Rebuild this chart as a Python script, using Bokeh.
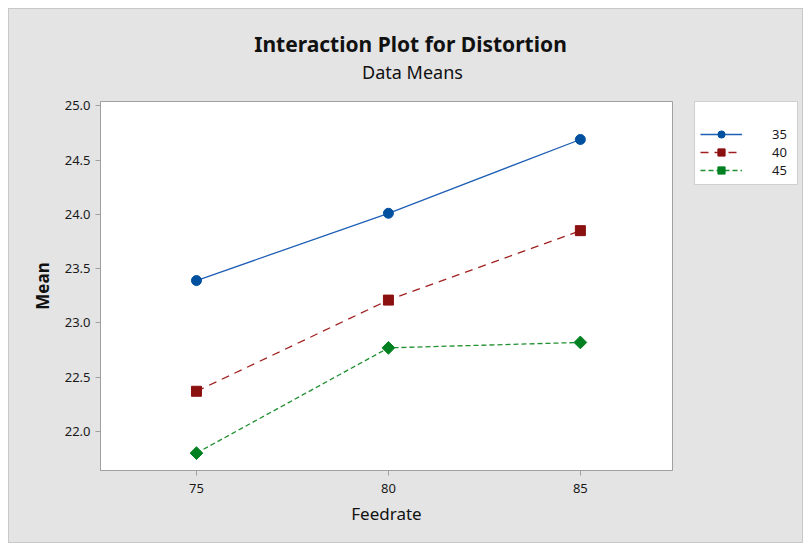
import math
from bokeh.plotting import figure
from bokeh.layouts import column, row
from bokeh.models import (Range1d, FixedTicker, Legend, LegendItem, Label, NumeralTickFormatter)
from bokeh.embed import file_html
from bokeh.resources import INLINE

feedrate = [75, 80, 85]
speeds = ["35", "40", "45"]
mean_35 = [23.39, 24.01, 24.69]
mean_40 = [22.37, 23.21, 23.85]
mean_45 = [21.80, 22.77, 22.82]
x_ticks = [75, 80, 85]
y_ticks = [22.0, 22.5, 23.0, 23.5, 24.0, 24.5, 25.0]

FONT = "Noto Sans"
BG = "#e4e4e4"
TXT = "#111111"

STY = {
    "35": dict(line_color="#1f5fb5", line_dash="solid", marker="circle", size=10,
               color="#0050a0", angle=0.0),
    "40": dict(line_color="#a02020", line_dash="8 6", marker="square", size=10,
               color="#8b1010", angle=0.0),
    "45": dict(line_color="#209030", line_dash="5 3", marker="square", size=9,
               color="#008020", angle=math.pi / 4),
}


def blank_fig(w, h, top=0, left=0):
    f = figure(width=w, height=h, output_backend="svg", toolbar_location=None,
               x_range=Range1d(0, 1), y_range=Range1d(0, 1),
               x_axis_type=None, y_axis_type=None,
               min_border_left=left, min_border_right=0, min_border_top=top,
               min_border_bottom=0)
    f.background_fill_color = BG
    f.border_fill_color = BG
    f.outline_line_color = None
    f.xgrid.visible = False
    f.ygrid.visible = False
    return f


# ---- title strip ----
tf = blank_fig(793, 84)
tf.add_layout(Label(x=401, y=50, x_units="screen", y_units="screen",
                    text="Interaction Plot for Distortion", text_align="center",
                    text_baseline="middle", text_font=FONT, text_font_size="21px",
                    text_font_style="bold", text_color=TXT))
tf.add_layout(Label(x=403, y=22, x_units="screen", y_units="screen",
                    text="Data Means", text_align="center", text_baseline="middle",
                    text_font=FONT, text_font_size="18px", text_color=TXT))

# ---- main plot ----
p = figure(width=680, height=449, output_backend="svg", toolbar_location=None,
           x_range=Range1d(72.5, 87.4), y_range=Range1d(21.64, 25.04),
           min_border_left=91, min_border_top=8, min_border_bottom=72, min_border_right=17)
p.background_fill_color = "white"
p.border_fill_color = BG
p.outline_line_color = "#a0a0a0"
p.outline_line_width = 1
p.xgrid.visible = False
p.ygrid.visible = False

for ax in (p.xaxis[0], p.yaxis[0]):
    ax.axis_line_color = "#a0a0a0"
    ax.major_tick_line_color = "#a0a0a0"
    ax.minor_tick_line_color = None
    ax.major_tick_out = 5
    ax.major_tick_in = 0
    ax.major_label_text_font = FONT
    ax.major_label_text_font_size = "13px"
    ax.major_label_text_color = "#1a1a1a"
    ax.axis_label_text_font = FONT
    ax.axis_label_text_color = TXT

p.xaxis.ticker = FixedTicker(ticks=x_ticks)
p.yaxis.ticker = FixedTicker(ticks=y_ticks)
p.yaxis.formatter = NumeralTickFormatter(format="0.0")
p.xaxis.axis_label = "Feedrate"
p.xaxis.axis_label_text_font_size = "17px"
p.xaxis.axis_label_text_font_style = "normal"
p.xaxis.major_label_standoff = 8
p.xaxis.axis_label_standoff = 6
p.yaxis.axis_label = "Mean"
p.yaxis.axis_label_text_font_size = "17px"
p.yaxis.axis_label_text_font_style = "bold"
p.yaxis.axis_label_standoff = 8

series = {"35": mean_35, "40": mean_40, "45": mean_45}
for sp in speeds:
    s = STY[sp]
    p.line(feedrate, series[sp], line_color=s["line_color"], line_width=1.3,
           line_dash=s["line_dash"])
    p.scatter(feedrate, series[sp], marker=s["marker"], size=s["size"],
              angle=s["angle"], fill_color=s["color"], line_color=s["color"])

# ---- legend panel (its renderers use the same data, which lies outside
#      this panel's 0..1 ranges, so only the legend samples show) ----
lf = blank_fig(113, 449, top=8, left=5)
items = []
for sp in speeds:
    s = STY[sp]
    lr = lf.line(feedrate, series[sp], line_color=s["line_color"], line_width=1.3,
                 line_dash=s["line_dash"])
    mr = lf.scatter(feedrate, series[sp], marker=s["marker"], size=s["size"],
                    angle=s["angle"], fill_color=s["color"], line_color=s["color"])
    items.append(LegendItem(label=sp, renderers=[lr, mr]))

legend = Legend(items=items, title="\u00a0", title_text_font=FONT,
                title_text_font_size="12px", title_standoff=1,
                label_text_font=FONT, label_text_font_size="13px",
                label_text_color="#1a1a1a", glyph_width=42, glyph_height=18,
                label_standoff=30, label_width=20, spacing=0, padding=5, margin=0,
                border_line_color="#a0a0a0", background_fill_color="white",
                background_fill_alpha=1.0, location="top_left")
lf.add_layout(legend)
lf.add_layout(Label(x=93, y=355, x_units="screen", y_units="screen",
                    text="Speed", text_align="right", text_baseline="middle",
                    text_font=FONT, text_font_size="12px", text_font_style="bold",
                    text_color=TXT, level="overlay"))

layout = column(tf, row(p, lf))
layout.styles = {"border": "1px solid #c8c8c8", "background-color": BG}
layout.margin = (8, 0, 0, 8)

open("out.html", "w").write(file_html(layout, INLINE))
